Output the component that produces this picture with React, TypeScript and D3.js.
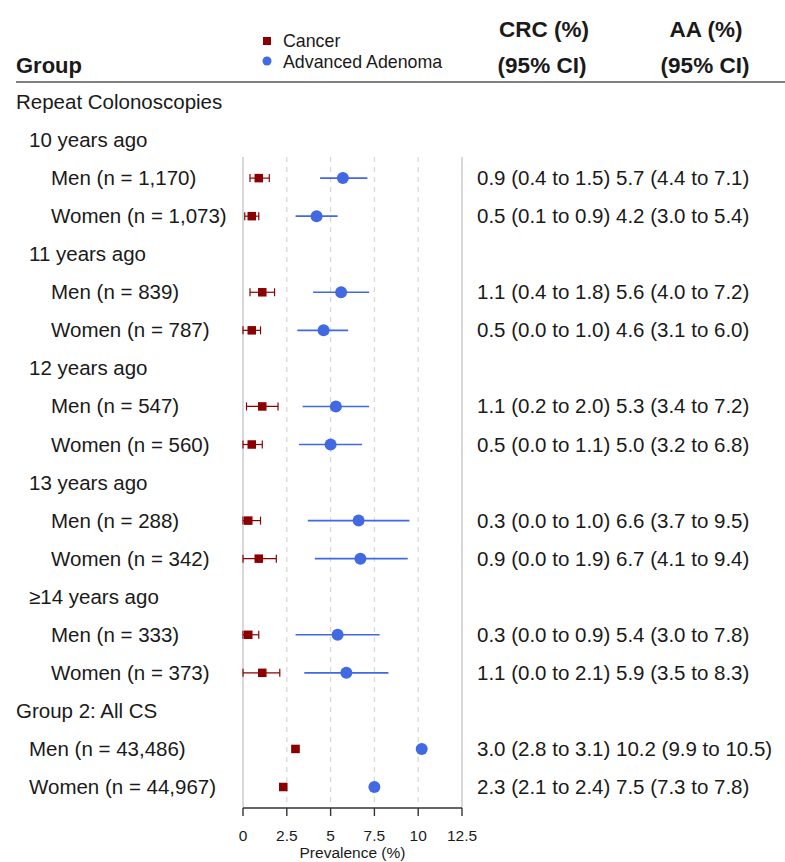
import React from 'react'
import * as d3 from 'd3'

// Data
const periods = ['10 years ago', '11 years ago', '12 years ago', '13 years ago', '≥14 years ago']
const subgroups = [
  'Men (n = 1,170)', 'Women (n = 1,073)',
  'Men (n = 839)', 'Women (n = 787)',
  'Men (n = 547)', 'Women (n = 560)',
  'Men (n = 288)', 'Women (n = 342)',
  'Men (n = 333)', 'Women (n = 373)',
  'Men (n = 43,486)', 'Women (n = 44,967)'
]
const crcEst = [0.9, 0.5, 1.1, 0.5, 1.1, 0.5, 0.3, 0.9, 0.3, 1.1, 3.0, 2.3]
const crcLo = [0.4, 0.1, 0.4, 0.0, 0.2, 0.0, 0.0, 0.0, 0.0, 0.0, 2.8, 2.1]
const crcHi = [1.5, 0.9, 1.8, 1.0, 2.0, 1.1, 1.0, 1.9, 0.9, 2.1, 3.1, 2.4]
const aaEst = [5.7, 4.2, 5.6, 4.6, 5.3, 5.0, 6.6, 6.7, 5.4, 5.9, 10.2, 7.5]
const aaLo = [4.4, 3.0, 4.0, 3.1, 3.4, 3.2, 3.7, 4.1, 3.0, 3.5, 9.9, 7.3]
const aaHi = [7.1, 5.4, 7.2, 6.0, 7.2, 6.8, 9.5, 9.4, 7.8, 8.3, 10.5, 7.8]
const xTicks = [0, 2.5, 5, 7.5, 10, 12.5]

const WIDTH = 785
const HEIGHT = 862
const FONT = '"Liberation Sans", Arial, sans-serif'
const CANCER = '#8b0000'
const ADENOMA = '#4169e1'
const INK = '#1a1a1a'

const fmt = (e: number, l: number, h: number) =>
  `${e.toFixed(1)} (${l.toFixed(1)} to ${h.toFixed(1)})`

// build table rows: headings and data rows
type Row = { label: string; level: number; idx?: number }
const buildRows = (): Row[] => {
  const rows: Row[] = [{ label: 'Repeat Colonoscopies', level: 0 }]
  periods.forEach((p, i) => {
    rows.push({ label: p, level: 1 })
    rows.push({ label: subgroups[i * 2], level: 2, idx: i * 2 })
    rows.push({ label: subgroups[i * 2 + 1], level: 2, idx: i * 2 + 1 })
  })
  rows.push({ label: 'Group 2: All CS', level: 0 })
  rows.push({ label: subgroups[10], level: 1, idx: 10 })
  rows.push({ label: subgroups[11], level: 1, idx: 11 })
  return rows
}

const App = () => {
  const rows = buildRows()
  const indentX = [16, 29, 51]

  const x = d3.scaleLinear().domain([0, 12.5]).range([243, 462])
  const y = d3.scaleLinear().domain([0, rows.length - 1]).range([102, 787])

  const panelTop = 157
  const axisY = 808
  const sq = 8.5

  return (
    <svg width={WIDTH} height={HEIGHT}
      style={{ position: 'absolute', left: 0, top: 0, background: '#fff' }}
      fontFamily={FONT}>
      {/* header */}
      <text x={16} y={73} fontSize={22} fontWeight="bold" fill={INK}>Group</text>
      <text x={544} y={37} fontSize={22.5} fontWeight="bold" fill={INK} textAnchor="middle">CRC (%)</text>
      <text x={542} y={73} fontSize={22.5} fontWeight="bold" fill={INK} textAnchor="middle">(95% CI)</text>
      <text x={706} y={37} fontSize={22.5} fontWeight="bold" fill={INK} textAnchor="middle">AA (%)</text>
      <text x={705} y={73} fontSize={22.5} fontWeight="bold" fill={INK} textAnchor="middle">(95% CI)</text>
      <line x1={16} x2={WIDTH} y1={82} y2={82} stroke="#808080" strokeWidth={2} />

      {/* legend */}
      <rect x={267 - 4} y={41 - 4} width={8} height={8} fill={CANCER} />
      <text x={283} y={47} fontSize={17.8} fill={INK}>Cancer</text>
      <circle cx={267} cy={61} r={4.5} fill={ADENOMA} />
      <text x={283} y={68} fontSize={17.8} fill={INK}>Advanced Adenoma</text>

      {/* grid */}
      {xTicks.map(t => {
        const edge = t === 0 || t === 12.5
        return (
          <line key={t} x1={x(t)} x2={x(t)} y1={panelTop} y2={axisY}
            stroke={edge ? '#cfcfcf' : '#d6d6d6'}
            strokeWidth={edge ? 1.6 : 1.2}
            strokeDasharray={edge ? undefined : '5,5'} />
        )
      })}

      {/* axis */}
      <line x1={x(0)} x2={x(12.5)} y1={axisY} y2={axisY} stroke="#333" strokeWidth={1.4} />
      {xTicks.map(t => (
        <g key={t}>
          <line x1={x(t)} x2={x(t)} y1={axisY} y2={axisY + 8} stroke="#333" strokeWidth={1.4} />
          <text x={x(t)} y={841} fontSize={15.5} fill={INK} textAnchor="middle">{t}</text>
        </g>
      ))}
      <text x={x(6.25)} y={858} fontSize={15.5} fill={INK} textAnchor="middle">Prevalence (%)</text>

      {/* rows */}
      {rows.map((r, i) => {
        const cy = y(i)
        return (
          <g key={i}>
            <text x={indentX[r.level]} y={cy + 7} fontSize={20.5} fill={INK}>{r.label}</text>
            {r.idx !== undefined && (() => {
              const k = r.idx
              return (
                <g>
                  <text x={477} y={cy + 7} fontSize={20.5} fill={INK}>{fmt(crcEst[k], crcLo[k], crcHi[k])}</text>
                  <text x={616} y={cy + 7} fontSize={20.5} fill={INK}>{fmt(aaEst[k], aaLo[k], aaHi[k])}</text>
                  {/* adenoma */}
                  <line x1={x(aaLo[k])} x2={x(aaHi[k])} y1={cy} y2={cy} stroke={ADENOMA} strokeWidth={1.6} />
                  <circle cx={x(aaEst[k])} cy={cy} r={6} fill={ADENOMA} />
                  {/* cancer */}
                  <line x1={x(crcLo[k])} x2={x(crcHi[k])} y1={cy} y2={cy} stroke={CANCER} strokeWidth={1.2} />
                  <line x1={x(crcLo[k])} x2={x(crcLo[k])} y1={cy - 4} y2={cy + 4} stroke={CANCER} strokeWidth={1.2} />
                  <line x1={x(crcHi[k])} x2={x(crcHi[k])} y1={cy - 4} y2={cy + 4} stroke={CANCER} strokeWidth={1.2} />
                  <rect x={x(crcEst[k]) - sq / 2} y={cy - sq / 2} width={sq} height={sq} fill={CANCER} />
                </g>
              )
            })()}
          </g>
        )
      })}
    </svg>
  )
}

export default App
